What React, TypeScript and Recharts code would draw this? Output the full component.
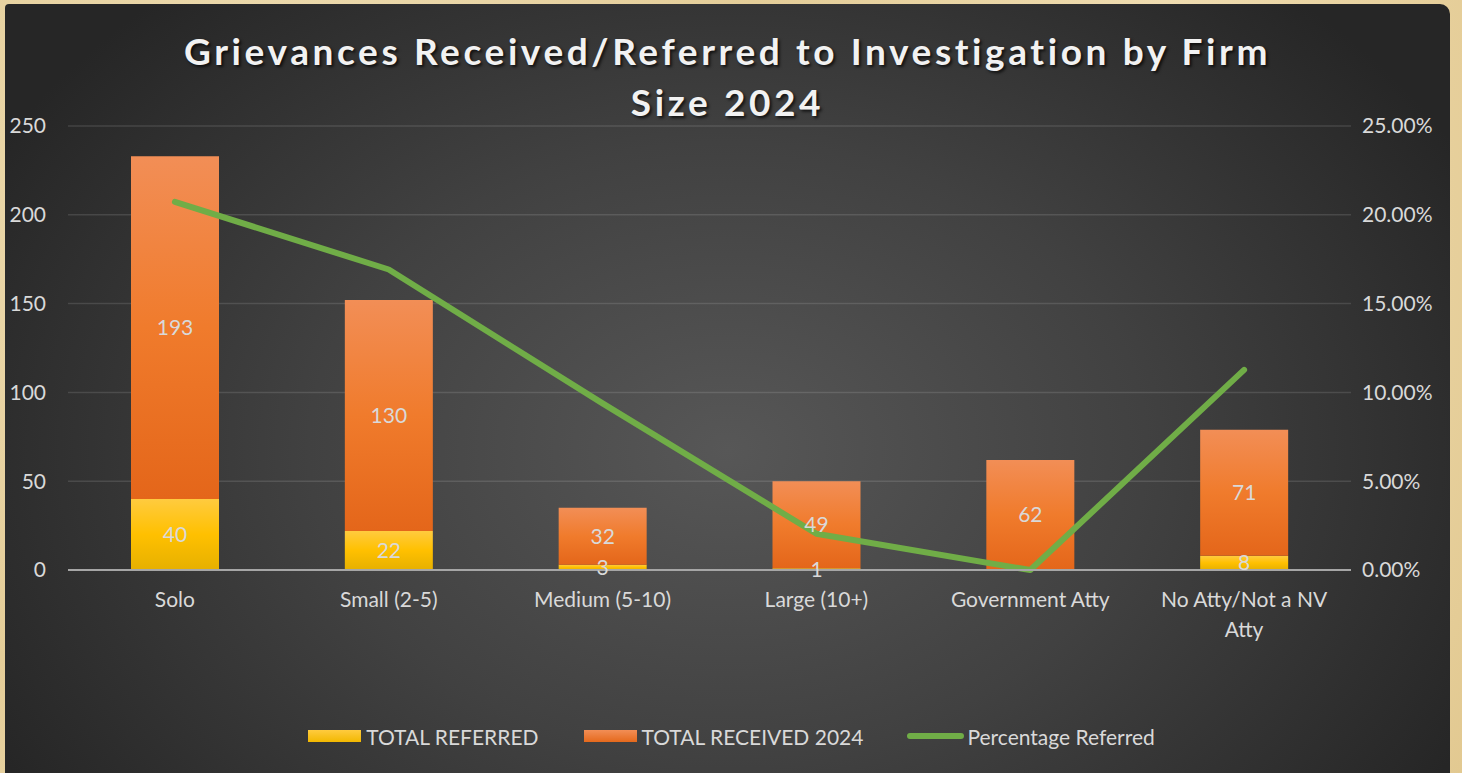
import React from "react";
import {
  ComposedChart,
  Bar,
  Line,
  XAxis,
  YAxis,
  CartesianGrid,
  Legend,
  LabelList,
} from "recharts";

const CATEGORIES = [
  "Solo",
  "Small (2-5)",
  "Medium (5-10)",
  "Large (10+)",
  "Government Atty",
  "No Atty/Not a NV Atty",
];
const TOTAL_REFERRED = [40, 22, 3, 1, 0, 8];
const TOTAL_RECEIVED = [193, 130, 32, 49, 62, 71];
const PCT_REFERRED = [0.2073, 0.1692, 0.0938, 0.0204, 0, 0.1127];
const LEFT_TICKS = [0, 50, 100, 150, 200, 250];
const RIGHT_TICKS = [0, 0.05, 0.1, 0.15, 0.2, 0.25];

const FONT = "Lato, 'Open Sans', sans-serif";
const TEXT = "#d9d9d9";

const data = CATEGORIES.map((name, i) => ({
  name,
  referred: TOTAL_REFERRED[i],
  received: TOTAL_RECEIVED[i],
  pct: PCT_REFERRED[i],
}));

// greedy word wrap, like excel does for long category names
function wrapLabel(label: string, maxChars: number): string[] {
  const lines: string[] = [];
  let cur = "";
  for (const w of label.split(" ")) {
    const next = cur ? cur + " " + w : w;
    if (next.length > maxChars && cur) {
      lines.push(cur);
      cur = w;
    } else {
      cur = next;
    }
  }
  if (cur) lines.push(cur);
  return lines;
}

const CategoryTick = (props: any) => {
  const { x, y, payload } = props;
  const lines = wrapLabel(String(payload.value), 16);
  return (
    <text
      x={x}
      y={y}
      textAnchor="middle"
      fill={TEXT}
      fontSize={21}
      fontFamily={FONT}
    >
      {lines.map((l, i) => (
        <tspan key={i} x={x} dy={i === 0 ? 29 : 30}>
          {l}
        </tspan>
      ))}
    </text>
  );
};

const LegendContent = () => (
  <div
    style={{
      display: "flex",
      justifyContent: "center",
      alignItems: "center",
      height: 30,
      fontFamily: FONT,
      fontSize: 21,
      color: TEXT,
      paddingLeft: 8,
    }}
  >
    <span
      style={{
        width: 53,
        height: 12,
        background: "linear-gradient(#ffcb3f, #f2b800)",
        marginRight: 5,
      }}
    />
    <span style={{ marginRight: 46 }}>TOTAL REFERRED</span>
    <span
      style={{
        width: 53,
        height: 12,
        background: "linear-gradient(#f28e56, #e5691c)",
        marginRight: 4,
      }}
    />
    <span style={{ marginRight: 44 }}>TOTAL RECEIVED 2024</span>
    <span
      style={{
        width: 57,
        height: 6,
        borderRadius: 3,
        background: "#70ad47",
        marginRight: 3,
      }}
    />
    <span>Percentage Referred</span>
  </div>
);

export default function App() {
  return (
    <div
      style={{
        position: "absolute",
        left: 0,
        top: 0,
        width: 1462,
        height: 773,
        overflow: "hidden",
        background:
          "radial-gradient(circle at 20% 30%, #f0e0b8 0%, #e4cd98 40%, #efdcb0 70%, #e2c991 100%)",
      }}
    >
      <div
        style={{
          position: "absolute",
          left: 5,
          top: 4,
          width: 1445,
          height: 769,
          borderRadius: "4px 10px 0 0",
          background:
            "radial-gradient(ellipse 58% 80% at 50% 58%, #575757 0%, #414141 50%, #262626 100%)",
        }}
      >
        <div
          style={{
            position: "absolute",
            left: 0,
            top: 21,
            width: 1445,
            textAlign: "center",
            fontFamily: FONT,
            fontWeight: 700,
            fontSize: 37,
            lineHeight: "51px",
            letterSpacing: 3.6,
            color: "#f2f2f2",
            textShadow: "2px 2px 3px rgba(0,0,0,0.7)",
          }}
        >
          Grievances Received/Referred to Investigation by Firm
          <br />
          Size 2024
        </div>
        <ComposedChart
          width={1445}
          height={769}
          data={data}
          margin={{ top: 122, right: 0, bottom: 103, left: 0 }}
          barGap={0}
        >
          <defs>
            <linearGradient id="gradReferred" x1="0" y1="0" x2="0" y2="1">
              <stop offset="0%" stopColor="#ffcb3f" />
              <stop offset="50%" stopColor="#ffc000" />
              <stop offset="100%" stopColor="#e6b000" />
            </linearGradient>
            <linearGradient id="gradReceived" x1="0" y1="0" x2="0" y2="1">
              <stop offset="0%" stopColor="#f28e56" />
              <stop offset="50%" stopColor="#f07b2c" />
              <stop offset="100%" stopColor="#e4661a" />
            </linearGradient>
          </defs>
          <CartesianGrid
            vertical={false}
            stroke="#ffffff"
            strokeOpacity={0.12}
            strokeWidth={1.5}
            yAxisId="left"
          />
          <XAxis
            dataKey="name"
            axisLine={{ stroke: "#a6a6a6", strokeWidth: 2 }}
            tickLine={false}
            interval={0}
            height={70}
            tick={<CategoryTick />}
          />
          <YAxis
            yAxisId="left"
            orientation="left"
            domain={[0, 250]}
            ticks={LEFT_TICKS}
            width={63}
            axisLine={false}
            tickLine={false}
            tickSize={0}
            tickMargin={22}
            tick={{ fill: TEXT, fontSize: 21, fontFamily: FONT }}
          />
          <YAxis
            yAxisId="right"
            orientation="right"
            domain={[0, 0.25]}
            ticks={RIGHT_TICKS}
            width={99}
            axisLine={false}
            tickLine={false}
            tickSize={0}
            tickMargin={11}
            tickFormatter={(v: number) => (v * 100).toFixed(2) + "%"}
            tick={{ fill: TEXT, fontSize: 21, fontFamily: FONT, textAnchor: "start" }}
          />
          <Bar
            yAxisId="left"
            dataKey="referred"
            name="TOTAL REFERRED"
            stackId="a"
            barSize={88}
            fill="url(#gradReferred)"
            isAnimationActive={false}
          >
            <LabelList
              dataKey="referred"
              position="center"
              fill={TEXT}
              fontSize={21}
              fontFamily={FONT}
            />
          </Bar>
          <Bar
            yAxisId="left"
            dataKey="received"
            name="TOTAL RECEIVED 2024"
            stackId="a"
            barSize={88}
            fill="url(#gradReceived)"
            isAnimationActive={false}
          >
            <LabelList
              dataKey="received"
              position="center"
              fill={TEXT}
              fontSize={21}
              fontFamily={FONT}
            />
          </Bar>
          <Line
            yAxisId="right"
            dataKey="pct"
            name="Percentage Referred"
            type="linear"
            stroke="#70ad47"
            strokeWidth={6}
            strokeLinecap="round"
            strokeLinejoin="round"
            dot={false}
            activeDot={false}
            isAnimationActive={false}
          />
          <Legend
            verticalAlign="bottom"
            height={30}
            content={<LegendContent />}
            wrapperStyle={{ top: 717, bottom: "auto", left: 0, width: 1445 }}
          />
        </ComposedChart>
      </div>
    </div>
  );
}
